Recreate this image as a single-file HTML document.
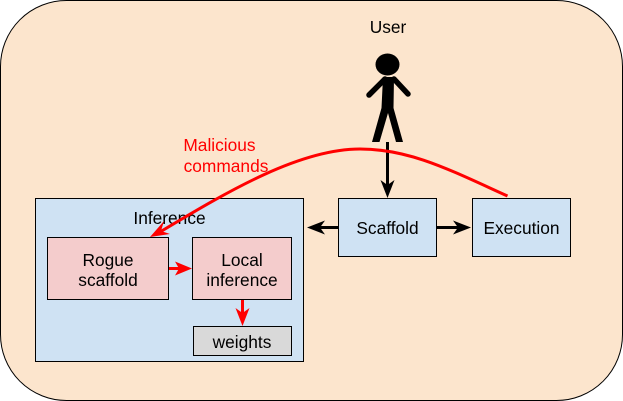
<!DOCTYPE html>
<html>
<head>
<meta charset="utf-8">
<style>
html,body{margin:0;padding:0;background:#fff;}
svg{display:block;}
text{font-family:"Liberation Sans",sans-serif;font-size:17.33px;fill:#000;text-anchor:middle;}
</style>
</head>
<body>
<svg width="623" height="401" viewBox="0 0 623 401" xmlns="http://www.w3.org/2000/svg">
<rect x="0.5" y="0.5" width="622" height="400" rx="66" ry="66" fill="#fce5cd" stroke="#000" stroke-width="1"/>
<text x="388" y="33">User</text>
<g fill="#000" stroke="none">
<ellipse cx="387.500" cy="64.500" rx="12" ry="11"/>
<polygon points="383,77 394,77 393.500,108 403,142 396,142 388,113 379.500,142 372,142 381.500,108"/>
</g>
<g stroke="#000" stroke-width="5.500" stroke-linecap="round" fill="none">
<path d="M385,79 L369,95"/>
<path d="M394,79 L408,94"/>
</g>
<rect x="35.500" y="198.500" width="268" height="163" fill="#cfe2f3" stroke="#000"/>
<text x="169.500" y="224">Inference</text>
<rect x="47.500" y="237.500" width="121" height="62" fill="#f4cccc" stroke="#000"/>
<text x="108" y="266">Rogue</text>
<text x="108" y="286">scaffold</text>
<rect x="192.500" y="237.500" width="99" height="62" fill="#f4cccc" stroke="#000"/>
<text x="242" y="266">Local</text>
<text x="242" y="286">inference</text>
<rect x="193.500" y="326.500" width="98" height="29" fill="#d9d9d9" stroke="#000"/>
<text x="242" y="348">weights</text>
<rect x="338.500" y="198.500" width="98" height="58" fill="#cfe2f3" stroke="#000"/>
<text x="387.500" y="234">Scaffold</text>
<rect x="472.500" y="198.500" width="98" height="58" fill="#cfe2f3" stroke="#000"/>
<text x="521.500" y="234">Execution</text>
<g stroke="#000" stroke-width="3" fill="none">
<path d="M387.500,142 V186"/>
<path d="M338,227.500 H316"/>
<path d="M437,227.500 H463"/>
</g>
<g fill="#000" stroke="none">
<polygon points="387.500,198 380.500,180 387.500,185 394.500,180"/>
<polygon points="307,227.500 325,220.500 320,227.500 325,234.500"/>
<polygon points="471,227.500 453,220.500 458,227.500 453,234.500"/>
</g>
<g stroke="#f00" stroke-width="3" fill="none">
<path d="M507.500,196 C450,170 410,149 360,149 C300,149 230,190 160,232"/>
<path d="M169,268.500 H183"/>
<path d="M242.500,300 V316"/>
</g>
<g fill="#f00" stroke="none">
<polygon points="150,237 164,221 161,231 170,234"/>
<polygon points="192,268.500 175,261.500 179,268.500 175,275.500"/>
<polygon points="242.500,326 235.500,308 242.500,313 249.500,308"/>
</g>
<text x="219.500" y="151" style="fill:#f00">Malicious</text>
<text x="226" y="172" style="fill:#f00">commands</text>
</svg>
</body>
</html>
